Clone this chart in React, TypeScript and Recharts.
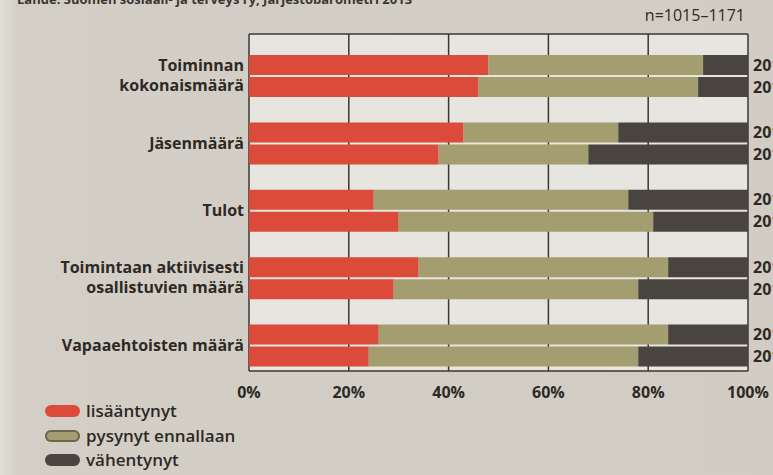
import React from 'react';
import { BarChart, Bar, XAxis, YAxis, CartesianGrid, LabelList } from 'recharts';

const categories = [
  'Toiminnan\nkokonaismäärä',
  'Jäsenmäärä',
  'Tulot',
  'Toimintaan aktiivisesti\nosallistuvien määrä',
  'Vapaaehtoisten määrä',
];
const years = ['2012', '2013'];
const increasedA = [48, 43, 25, 34, 26];
const stayedA = [43, 31, 51, 50, 58];
const decreasedA = [9, 26, 24, 16, 16];
const increasedB = [46, 38, 30, 29, 24];
const stayedB = [44, 30, 51, 49, 54];
const decreasedB = [10, 32, 19, 22, 22];
const xTicks = [0, 20, 40, 60, 80, 100];
const seriesNames = ['lisääntynyt', 'pysynyt ennallaan', 'vähentynyt'];

const RED = '#dc4a39';
const TAN = '#a49d6f';
const DARK = '#4a4440';
const INK = '#2d2925';
const colors = [RED, TAN, DARK];

const data = categories.map((name, i) => ({
  name,
  incA: increasedA[i],
  staA: stayedA[i],
  decA: decreasedA[i],
  incB: increasedB[i],
  staB: stayedB[i],
  decB: decreasedB[i],
}));

const CategoryTick = ({ x, y, payload }: any) => {
  const lines = String(payload.value).split('\n');
  const lineH = 20;
  const first = -((lines.length - 1) * lineH) / 2 + 5.5;
  return (
    <text x={x} y={y} textAnchor="end" fill={INK} fontSize={16} fontWeight={700} fontFamily="Open Sans">
      {lines.map((l, i) => (
        <tspan key={i} x={x} dy={i === 0 ? first : lineH}>
          {l}
        </tspan>
      ))}
    </text>
  );
};

const App: React.FC = () => {
  return (
    <div
      style={{
        position: 'fixed',
        left: 0,
        top: 0,
        width: 773,
        height: 475,
        overflow: 'hidden',
        background: 'linear-gradient(90deg, #e2dfd8 0px, #d3cfc6 18px, #d1cdc4 100%)',
        fontFamily: 'Open Sans, sans-serif',
        color: INK,
      }}
    >
      <div style={{ position: 'absolute', left: 17, top: -10, fontSize: 13, fontWeight: 700, whiteSpace: 'nowrap', color: '#3a3632' }}>
        Lähde: Suomen sosiaali- ja terveys ry, Järjestöbarometri 2013
      </div>
      <div style={{ position: 'absolute', right: 28, top: 4, fontSize: 16, lineHeight: '22px' }}>n=1015–1171</div>

      <BarChart
        width={800}
        height={475}
        data={data}
        layout="vertical"
        margin={{ top: 34, right: 52, bottom: 74, left: 8 }}
        barCategoryGap={13}
        barGap={2}
      >
        <CartesianGrid
          horizontal={true}
          vertical={true}
          fill="#e7e5df"
          fillOpacity={1}
          stroke="#3a3632"
          strokeWidth={1.5}
          strokeDasharray=""
          horizontalCoordinatesGenerator={({ offset }: any) => [offset.top, offset.top + offset.height]}
        />
        <XAxis
          type="number"
          domain={[0, 100]}
          ticks={xTicks}
          tickFormatter={(v) => `${v}%`}
          axisLine={false}
          tickLine={false}
          tickSize={0}
          tickMargin={16}
          height={30}
          tick={{ fill: INK, fontSize: 16, fontWeight: 700, fontFamily: 'Open Sans' }}
        />
        <YAxis
          type="category"
          dataKey="name"
          width={241}
          axisLine={false}
          tickLine={false}
          tickSize={0}
          tickMargin={5}
          padding={{ top: 8, bottom: -8 }}
          tick={<CategoryTick />}
          interval={0}
        />
        <Bar dataKey="incA" stackId="a" fill={RED} isAnimationActive={false} />
        <Bar dataKey="staA" stackId="a" fill={TAN} isAnimationActive={false} />
        <Bar dataKey="decA" stackId="a" fill={DARK} isAnimationActive={false}>
          <LabelList
            position="right"
            offset={5}
            formatter={() => years[0]}
            style={{ fill: INK, fontSize: 16, fontWeight: 700, fontFamily: 'Open Sans' }}
          />
        </Bar>
        <Bar dataKey="incB" stackId="b" fill={RED} isAnimationActive={false} />
        <Bar dataKey="staB" stackId="b" fill={TAN} isAnimationActive={false} />
        <Bar dataKey="decB" stackId="b" fill={DARK} isAnimationActive={false}>
          <LabelList
            position="right"
            offset={5}
            formatter={() => years[1]}
            style={{ fill: INK, fontSize: 16, fontWeight: 700, fontFamily: 'Open Sans' }}
          />
        </Bar>
      </BarChart>

      <div style={{ position: 'absolute', left: 45, top: 399 }}>
        {seriesNames.map((n, i) => (
          <div key={n} style={{ display: 'flex', alignItems: 'center', height: 24.5 }}>
            <span
              style={{
                display: 'inline-block',
                width: 35,
                height: 12,
                borderRadius: 6,
                background: colors[i],
                boxShadow: i === 1 ? 'inset 0 0 0 2px #6d6750' : 'none',
                marginRight: 6,
              }}
            />
            <span style={{ fontSize: 17, fontWeight: 600, lineHeight: '20px' }}>{n}</span>
          </div>
        ))}
      </div>
    </div>
  );
};

export default App;
